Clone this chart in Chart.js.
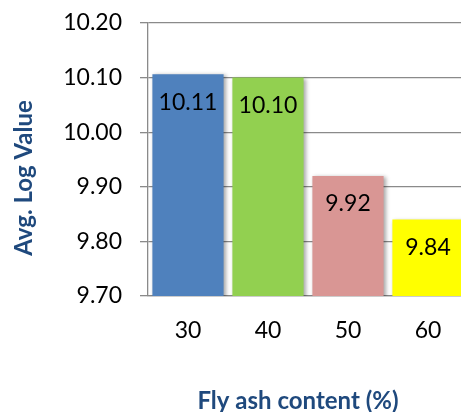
<!DOCTYPE html>
<html>
<head>
<meta charset="utf-8">
<script src="https://cdn.jsdelivr.net/npm/chart.js@4"></script>
<style>
html,body{margin:0;padding:0;background:#fff;overflow:hidden;}
#wrap{width:480px;height:412px;}
</style>
</head>
<body>
<div id="wrap"><canvas id="c" width="480" height="412"></canvas></div>
<script>
const categories = ["30", "40", "50", "60"];
const avgLogValues = [10.106, 10.10, 9.92, 9.84];
const valueLabels = ["10.11", "10.10", "9.92", "9.84"];
const barColors = ["#4F81BD", "#92D050", "#D99694", "#FFFF00"];
const yTicks = [9.70, 9.80, 9.90, 10.00, 10.10, 10.20];
const xTitle = "Fly ash content (%)";
const yTitle = "Avg. Log Value";

const FONT = "Lato, 'Open Sans', sans-serif";
const TITLE_COLOR = "#1F497D";

const shadowPlugin = {
  id: "shadow",
  beforeDatasetDraw(chart) {
    const ctx = chart.ctx;
    ctx.save();
    ctx.shadowColor = "rgba(0,0,0,0.35)";
    ctx.shadowBlur = 4;
    ctx.shadowOffsetX = 2;
    ctx.shadowOffsetY = 1;
  },
  afterDatasetDraw(chart) {
    chart.ctx.restore();
  }
};

const labelPlugin = {
  id: "labels",
  afterDatasetsDraw(chart) {
    const ctx = chart.ctx;
    const meta = chart.getDatasetMeta(0);
    ctx.save();
    ctx.font = "23px " + FONT;
    ctx.fillStyle = "#000";
    ctx.textAlign = "center";
    ctx.textBaseline = "middle";
    meta.data.forEach((bar, i) => {
      ctx.fillText(valueLabels[i], bar.x, bar.y + 28);
    });
    ctx.restore();
  }
};

const titlePlugin = {
  id: "titles",
  afterDraw(chart) {
    const ctx = chart.ctx;
    ctx.save();
    ctx.fillStyle = TITLE_COLOR;
    ctx.font = "bold 24px " + FONT;
    ctx.textAlign = "center";
    ctx.textBaseline = "middle";
    ctx.fillText(xTitle, 298, 401);
    ctx.translate(24, 178);
    ctx.rotate(-Math.PI / 2);
    ctx.fillText(yTitle, 0, 0);
    ctx.restore();
  }
};

new Chart(document.getElementById("c"), {
  type: "bar",
  data: {
    labels: categories,
    datasets: [{
      data: avgLogValues,
      backgroundColor: barColors,
      borderWidth: 0,
      barPercentage: 0.89,
      categoryPercentage: 1.0
    }]
  },
  options: {
    responsive: false,
    animation: false,
    devicePixelRatio: 1,
    layout: { padding: { left: 0, top: 23, right: 12, bottom: 0 } },
    plugins: { legend: { display: false }, tooltip: { enabled: false } },
    scales: {
      x: {
        grid: { display: false, drawTicks: false },
        border: { display: true, color: "#8a8a8a", width: 1.3 },
        ticks: { color: "#000", font: { family: FONT, size: 23 }, padding: 21 },
        afterFit(scale) { scale.height = 116; scale.paddingLeft = 0; scale.paddingRight = 0; }
      },
      y: {
        min: 9.70,
        max: 10.20,
        afterBuildTicks(scale) { scale.ticks = yTicks.map(v => ({ value: v })); },
        grid: { color: "#8a8a8a", lineWidth: 1.3, tickLength: 8, drawTicks: true },
        border: { display: true, color: "#8a8a8a", width: 1.3 },
        ticks: {
          color: "#000",
          font: { family: FONT, size: 23 },
          padding: 18,
          callback: v => Number(v).toFixed(2)
        },
        afterFit(scale) { scale.width = 148; scale.paddingTop = 0; scale.paddingBottom = 0; }
      }
    }
  },
  plugins: [shadowPlugin, labelPlugin, titlePlugin]
});
</script>
</body>
</html>
